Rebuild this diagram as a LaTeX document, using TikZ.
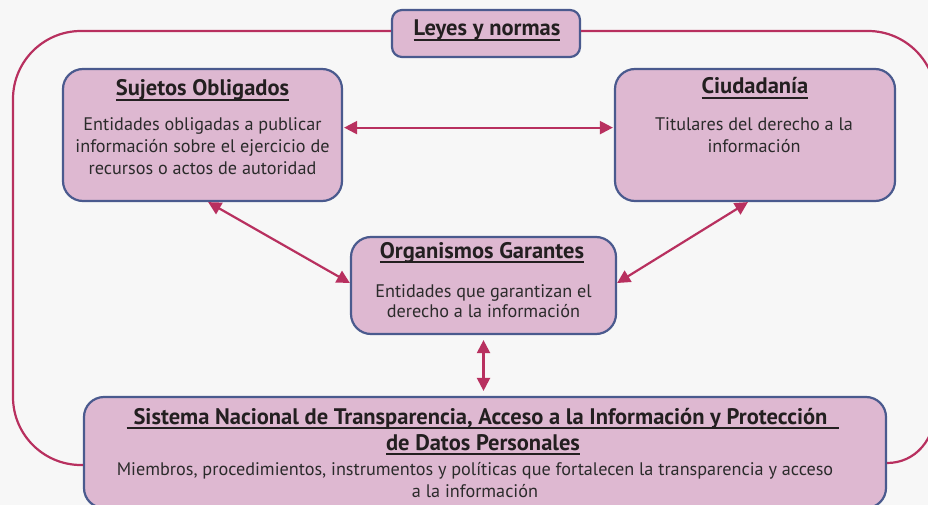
\documentclass[tikz,border=0pt]{standalone}
\usepackage{fontspec}
\setmainfont{PT Sans}
\usetikzlibrary{arrows.meta,calc}
\definecolor{bg}{HTML}{F7F7F7}
\definecolor{boxfill}{HTML}{DEB8D1}
\definecolor{boxdraw}{HTML}{4A5A8E}
\definecolor{arr}{HTML}{B8305F}
\definecolor{ttlc}{HTML}{231F20}
\definecolor{txtc}{HTML}{2B2B2B}
\newcommand{\myul}[1]{\setbox0\hbox{#1}\rlap{\rule[-5pt]{\wd0}{1.8pt}}\box0}
\begin{document}
\begin{tikzpicture}[x=1pt,y=-1pt,
  box/.style={draw=boxdraw, fill=boxfill, line width=2.2pt, rounded corners=20pt, inner sep=0pt},
  ttl/.style={font=\fontsize{22.5}{26}\selectfont\bfseries, text=ttlc, inner sep=0pt, anchor=base, align=center},
  body/.style={font=\fontsize{18.2}{22}\selectfont, text=txtc, inner sep=0pt, anchor=base, align=center},
  link/.style={draw=arr, line width=2.2pt, {Triangle[length=13pt,width=13pt]}-{Triangle[length=13pt,width=13pt]}},
  loopline/.style={draw=arr, line width=2.2pt}]
\clip (0,0) rectangle (928,505);
\fill[bg] (0,0) rectangle (928,505);

% boxes
\node[box, rounded corners=10pt, minimum width=188pt, minimum height=47pt] (ley) at (486,33.5) {};
\node[box, minimum width=279pt, minimum height=132pt] (suj) at (202.5,135) {};
\node[box, minimum width=280pt, minimum height=132pt] (ciu) at (755,135) {};
\node[box, minimum width=265pt, minimum height=97pt] (org) at (483.5,285.5) {};
\node[box, minimum width=802pt, minimum height=111pt] (sis) at (485,452.5) {};

% outer loop
\draw[loopline, rounded corners=68pt] (sis.west |- 0,465) -| (13,31) -- (ley.west |- 0,31);
\draw[loopline] (ley.east |- 0,31) -- (868,31) .. controls (905.5,31) and (936,61.5) .. (936,99)
  -- (936,405) .. controls (936,440) and (915,463) .. (sis.east |- 0,463);

% connectors
\coordinate (h1) at ($(suj.north east)!0.445!(suj.south east)$);
\draw[link, shorten <=1pt, shorten >=1pt] (h1) -- (h1 -| ciu.west);
\draw[link] ($(suj.south west)!0.52!(suj.south east)$) -- ($(org.north west)!0.475!(org.south west)$);
\draw[link] ($(ciu.south west)!0.475!(ciu.south east)$) -- ($(org.north east)!0.475!(org.south east)$);
\draw[link, shorten <=5pt, shorten >=5pt] (org.south) -- (org.south |- sis.north);

% texts (anchor base = baseline of the last line)
\node[ttl] (leyT) at (487,36) {\myul{Leyes y normas}};
\node[ttl] (sujT) at (202.5,96) {\myul{Sujetos Obligados}};
\node[body] (sujB) at (202.5,175) {Entidades obligadas a publicar\\información sobre el ejercicio de\\recursos o actos de autoridad};
\node[ttl] (ciuT) at (755,94) {\myul{Ciudadanía}};
\node[body] (ciuB) at (754,153) {Titulares del derecho a la\\información};
\node[ttl] (orgT) at (482,258) {\myul{Organismos Garantes}};
\node[body, font=\fontsize{18.2}{20}\selectfont] (orgB) at (483.5,317) {Entidades que garantizan el\\derecho a la información};
\node[ttl] (sisT) at (483,450) {\myul{\hspace{7pt}Sistema Nacional de Transparencia, Acceso a la Información y Protección\hspace{12pt}}\\\myul{de Datos Personales}};
\node[body] (sisB) at (475,497) {Miembros, procedimientos, instrumentos y políticas que fortalecen la transparencia y acceso\\a la información};
\end{tikzpicture}
\end{document}
